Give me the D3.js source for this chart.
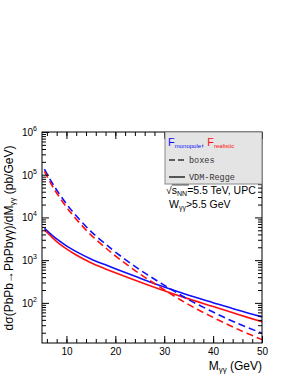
<!DOCTYPE html>
<html>
<head>
<meta charset="utf-8">
<script src="https://cdn.jsdelivr.net/npm/d3@7/dist/d3.min.js"></script>
<style>
  body { margin: 0; background: #fff; }
  svg { font-family: "Liberation Sans", Arial, sans-serif; }
</style>
</head>
<body>
<div id="chart"></div>
<script>
// masse M_γγ (GeV)
const mass = [5.5, 7, 8, 10, 12, 15, 18, 20, 25, 30, 35, 40, 45, 50];

// boxes (tratteggiate)
const boxesMonopole = [135000, 66700, 43900, 20800, 10900, 4700, 2380, 1550, 596, 260, 119, 61, 33, 19.5];
const boxesRealistic = [120000, 57400, 37300, 17500, 9100, 3910, 1950, 1260, 476, 203, 91, 45.7, 24.3, 13.8];

// VDM-Regge (continue)
const vdmMonopole = [5560, 3890, 3130, 2160, 1585, 1070, 776, 631, 380, 234, 151, 101, 68, 47];
const vdmRealistic = [5070, 3470, 2720, 1840, 1320, 871, 624, 507, 309, 193, 124, 82, 54, 36];

const xTicks = [10, 20, 30, 40, 50];
const yTicks = [1e2, 1e3, 1e4, 1e5, 1e6];

const W = 298, H = 385;
const margin = { top: 132, right: 36, bottom: 42, left: 42 };

const svg = d3.select('#chart')
    .append('svg')
    .attr('width', W)
    .attr('height', H);

const x = d3.scaleLinear().domain([5, 50]).range([margin.left, W - margin.right]);
const y = d3.scaleLog().domain([11.5, 1e6]).range([H - margin.bottom, margin.top]);

const blue = '#1010ff', red = '#ff1010';

// curve
const line = vals => d3.line()
    .x((d, i) => x(mass[i]))
    .y(d => y(d))
    .curve(d3.curveCatmullRom.alpha(0.5))(vals);

const series = [
    { v: vdmMonopole, c: blue, dash: null },
    { v: vdmRealistic, c: red, dash: null },
    { v: boxesMonopole, c: blue, dash: '7,4' },
    { v: boxesRealistic, c: red, dash: '7,4' }
];

svg.append('g')
    .selectAll('path')
    .data(series)
    .enter()
    .append('path')
    .attr('d', d => line(d.v))
    .attr('fill', 'none')
    .attr('stroke', d => d.c)
    .attr('stroke-width', 1.6)
    .attr('stroke-dasharray', d => d.dash);

// cornice e assi (tick verso l'interno, stile ROOT)
const x0 = x.range()[0], x1 = x.range()[1];
const y0 = y.range()[0], y1 = y.range()[1];

svg.append('g')
    .attr('transform', `translate(0,${y0})`)
    .call(d3.axisBottom(x).tickValues(d3.range(6, 51, 2)).tickSize(-4).tickFormat(''))
    .call(g => g.select('.domain').remove());
svg.append('g')
    .attr('transform', `translate(0,${y0})`)
    .call(d3.axisBottom(x).tickValues(xTicks).tickSize(-7).tickPadding(5).tickFormat(d3.format('d')))
    .call(g => g.select('.domain').remove())
    .call(g => g.selectAll('text').attr('font-size', '10px').attr('fill', '#000'));
svg.append('g')
    .attr('transform', `translate(0,${y1})`)
    .call(d3.axisTop(x).tickValues(d3.range(6, 51, 2)).tickSize(-4).tickFormat(''))
    .call(g => g.select('.domain').remove());
svg.append('g')
    .attr('transform', `translate(0,${y1})`)
    .call(d3.axisTop(x).tickValues(xTicks).tickSize(-7).tickFormat(''))
    .call(g => g.select('.domain').remove());

// minor log ticks
const minor = [];
[10, 100, 1000, 10000, 100000].forEach(dec => {
    for (let k = 2; k <= 9; k++) if (dec * k >= 11.5) minor.push(dec * k);
});

[[d3.axisLeft, x0], [d3.axisRight, x1]].forEach(([ax, pos]) => {
    svg.append('g')
        .attr('transform', `translate(${pos},0)`)
        .call(ax(y).tickValues(minor).tickSize(-4).tickFormat(''))
        .call(g => g.select('.domain').remove());
    svg.append('g')
        .attr('transform', `translate(${pos},0)`)
        .call(ax(y).tickValues(yTicks).tickSize(-7).tickFormat(''))
        .call(g => g.select('.domain').remove());
});

// etichette asse y: 10^n
const yLab = svg.append('g')
    .selectAll('text')
    .data(yTicks)
    .enter()
    .append('text')
    .attr('x', x0 - 5)
    .attr('y', d => y(d) + 4)
    .attr('text-anchor', 'end')
    .attr('font-size', '10px');
yLab.append('tspan').text('10');
yLab.append('tspan').attr('dy', -5).attr('font-size', '7px').text(d => Math.round(Math.log10(d)));

svg.append('rect')
    .attr('x', x0).attr('y', y1)
    .attr('width', x1 - x0).attr('height', y0 - y1)
    .attr('fill', 'none').attr('stroke', '#000').attr('stroke-width', 1);

svg.selectAll('.tick line').attr('stroke', '#000');

// legenda
const lg = svg.append('g');
lg.append('rect')
    .attr('x', 165).attr('y', y1)
    .attr('width', x1 - 165).attr('height', 52)
    .attr('fill', '#e4e4e4').attr('stroke', '#8a8a8a').attr('stroke-width', 1);

const t1 = lg.append('text').attr('x', 168).attr('y', 146).attr('font-size', '11px');
t1.append('tspan').attr('fill', blue).text('F');
t1.append('tspan').attr('fill', blue).attr('font-size', '6px').attr('dy', 2).text('monopole');
t1.append('tspan').attr('fill', blue).attr('dy', -2).text(', ');
t1.append('tspan').attr('fill', red).text('F');
t1.append('tspan').attr('fill', red).attr('font-size', '6px').attr('dy', 2).text('realistic');

const legItems = [
    { label: 'boxes', dash: '6,3', y: 160 },
    { label: 'VDM-Regge', dash: null, y: 177 }
];
legItems.forEach(d => {
    lg.append('line')
        .attr('x1', 169).attr('x2', 185)
        .attr('y1', d.y).attr('y2', d.y)
        .attr('stroke', '#333').attr('stroke-width', 1.6)
        .attr('stroke-dasharray', d.dash);
    lg.append('text')
        .attr('x', 189).attr('y', d.y + 3)
        .attr('font-family', '"Liberation Mono", monospace')
        .attr('font-size', '8.5px')
        .attr('fill', '#333')
        .text(d.label);
});

// testo energia
const e1 = svg.append('text').attr('x', 166).attr('y', 194).attr('font-size', '10.5px');
e1.append('tspan').text('√');
e1.append('tspan').text('s');
e1.append('tspan').attr('font-size', '7px').attr('dy', 2).text('NN');
e1.append('tspan').attr('dy', -2).text('=5.5 TeV, UPC');
svg.append('line')
    .attr('x1', 172).attr('x2', 189)
    .attr('y1', 185).attr('y2', 185)
    .attr('stroke', '#000').attr('stroke-width', 0.7);

const e2 = svg.append('text').attr('x', 169).attr('y', 208).attr('font-size', '10.5px');
e2.append('tspan').text('W');
e2.append('tspan').attr('font-size', '7px').attr('dy', 2).text('γγ');
e2.append('tspan').attr('dy', -2).text('>5.5 GeV');

// titoli assi
const xt = svg.append('text')
    .attr('x', x1).attr('y', 370)
    .attr('text-anchor', 'end')
    .attr('font-size', '12px');
xt.append('tspan').text('M');
xt.append('tspan').attr('font-size', '8px').attr('dy', 2).text('γγ');
xt.append('tspan').attr('dy', -2).text(' (GeV)');

const yt = svg.append('text')
    .attr('transform', `translate(13,238) rotate(-90)`)
    .attr('text-anchor', 'middle')
    .attr('font-size', '12px');
yt.append('tspan').text('dσ(PbPb→PbPbγγ)/dM');
yt.append('tspan').attr('font-size', '8px').attr('dy', 2).text('γγ');
yt.append('tspan').attr('dy', -2).text('  (pb/GeV)');
</script>
</body>
</html>
